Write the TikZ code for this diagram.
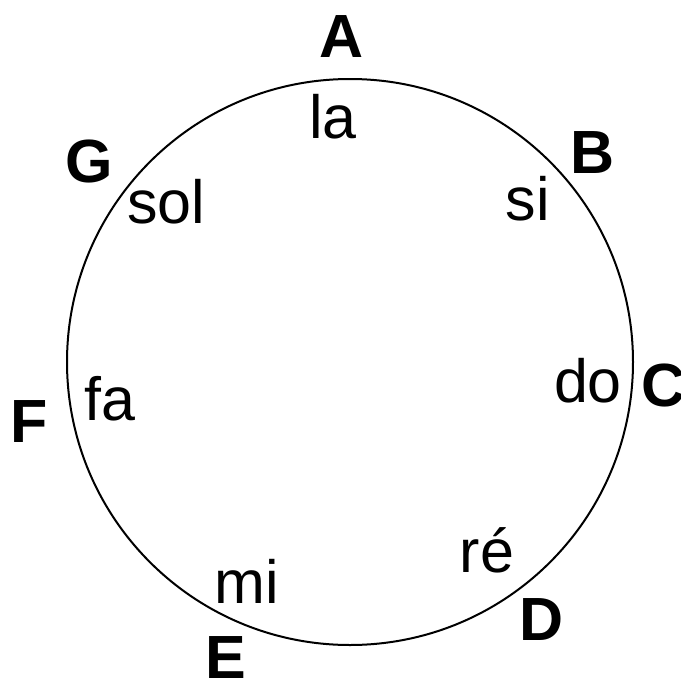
\documentclass[tikz,border=0pt]{standalone}
\usepackage{fontspec}
\setmainfont{Liberation Sans}
\usepackage{tikz}

\tikzset{
  letter/.style={anchor=base, inner sep=0pt, font=\fontsize{61}{70}\selectfont\bfseries},
  syll/.style={anchor=base, inner sep=0pt, font=\fontsize{61}{70}\selectfont},
}

\begin{document}
\begin{tikzpicture}[x=1pt, y=-1pt, line width=2pt]

  %% ════ 圆 ════
  \node (dial) [circle, draw, inner sep=0pt, minimum size=566pt] at (350,362) {};

  %% ════ 音名（外圈）════
  \node (A) [letter] at (342,57)  {A};
  \node (B) [letter] at (593,173) {B};
  \node (C) [letter] at (664,406) {C};
  \node (D) [letter] at (542,640) {D};
  \node (E) [letter] at (226,678) {E};
  \node (F) [letter] at (29,442)  {F};
  \node (G) [letter] at (89,182)  {G};

  %% ════ 唱名（内圈）════
  \node (la)  [syll] at (333,138) {la};
  \node (si)  [syll] at (528,220) {si};
  \node (do)  [syll] at (588,402) {do};
  \node (re)  [syll] at (487,572) {ré};
  \node (mi)  [syll] at (247,603) {mi};
  \node (fa)  [syll] at (110,420) {fa};
  \node (sol) [syll] at (166,223) {sol};

  % 钉死画布
  \pgfresetboundingbox
  \path[use as bounding box] (0,0) rectangle (681,678);
\end{tikzpicture}
\end{document}
